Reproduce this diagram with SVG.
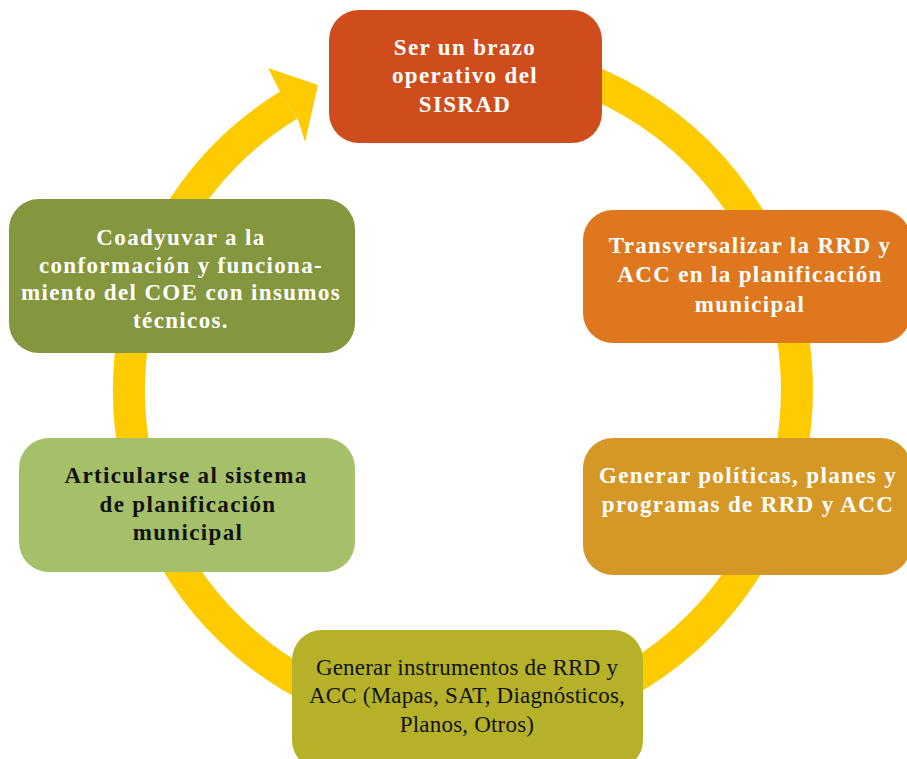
<svg xmlns="http://www.w3.org/2000/svg" width="907" height="759" viewBox="0 0 907 759">
<style>
.ring{fill:none;stroke:#FECB00;stroke-width:32}
.head{fill:#FECB00}
.t{font-family:"Liberation Serif","DejaVu Serif",serif;font-size:23px;text-anchor:middle}
.b{font-weight:bold;letter-spacing:1.35px}
.n{letter-spacing:0.2px}
.w{fill:#FFFFFF}
.k{fill:#111111}
</style>
<rect width="907" height="759" fill="#FFFFFF"/>
<g id="connectors">
<path class="ring" d="M 492.1,57.3 A 334 334 0 1 1 288.8,105"/>
<polygon class="head" points="279.5,90.5 268,68 318,85 305,142 298,119.5"/>
</g>
<g id="n1">
<rect x="329" y="10" width="273" height="133" rx="30" fill="#CF4D1D"/>
<text class="t b w"><tspan x="465" y="55">Ser un brazo</tspan><tspan x="465" y="83">operativo del</tspan><tspan x="465" y="112">SISRAD</tspan></text>
</g>
<g id="n2">
<rect x="583" y="210" width="328" height="133" rx="30" fill="#DE771D"/>
<text class="t b w"><tspan x="750" y="253">Transversalizar la RRD y</tspan><tspan x="750" y="282">ACC en la planificación</tspan><tspan x="750" y="312">municipal</tspan></text>
</g>
<g id="n3">
<rect x="583" y="438" width="328" height="137" rx="30" fill="#D59826"/>
<text class="t b w"><tspan x="748" y="483">Generar políticas, planes y</tspan><tspan x="748" y="512">programas de RRD y ACC</tspan></text>
</g>
<g id="n4">
<rect x="292" y="630" width="351" height="140" rx="30" fill="#B5B22A"/>
<text class="t n k"><tspan x="467" y="675">Generar instrumentos de RRD y</tspan><tspan x="467" y="703">ACC (Mapas, SAT, Diagnósticos,</tspan><tspan x="467" y="732">Planos, Otros)</tspan></text>
</g>
<g id="n5">
<rect x="19" y="438" width="336" height="134" rx="30" fill="#A6C06A"/>
<text class="t b k"><tspan x="186" y="483">Articularse al sistema</tspan><tspan x="188" y="512">de planificación</tspan><tspan x="188" y="540">municipal</tspan></text>
</g>
<g id="n6">
<rect x="9" y="199" width="346" height="154" rx="30" fill="#84963E"/>
<text class="t b w"><tspan x="181" y="245">Coadyuvar a la</tspan><tspan x="181" y="273">conformación y funciona-</tspan><tspan x="181" y="300">miento del COE con insumos</tspan><tspan x="181" y="328">técnicos.</tspan></text>
</g>
</svg>
